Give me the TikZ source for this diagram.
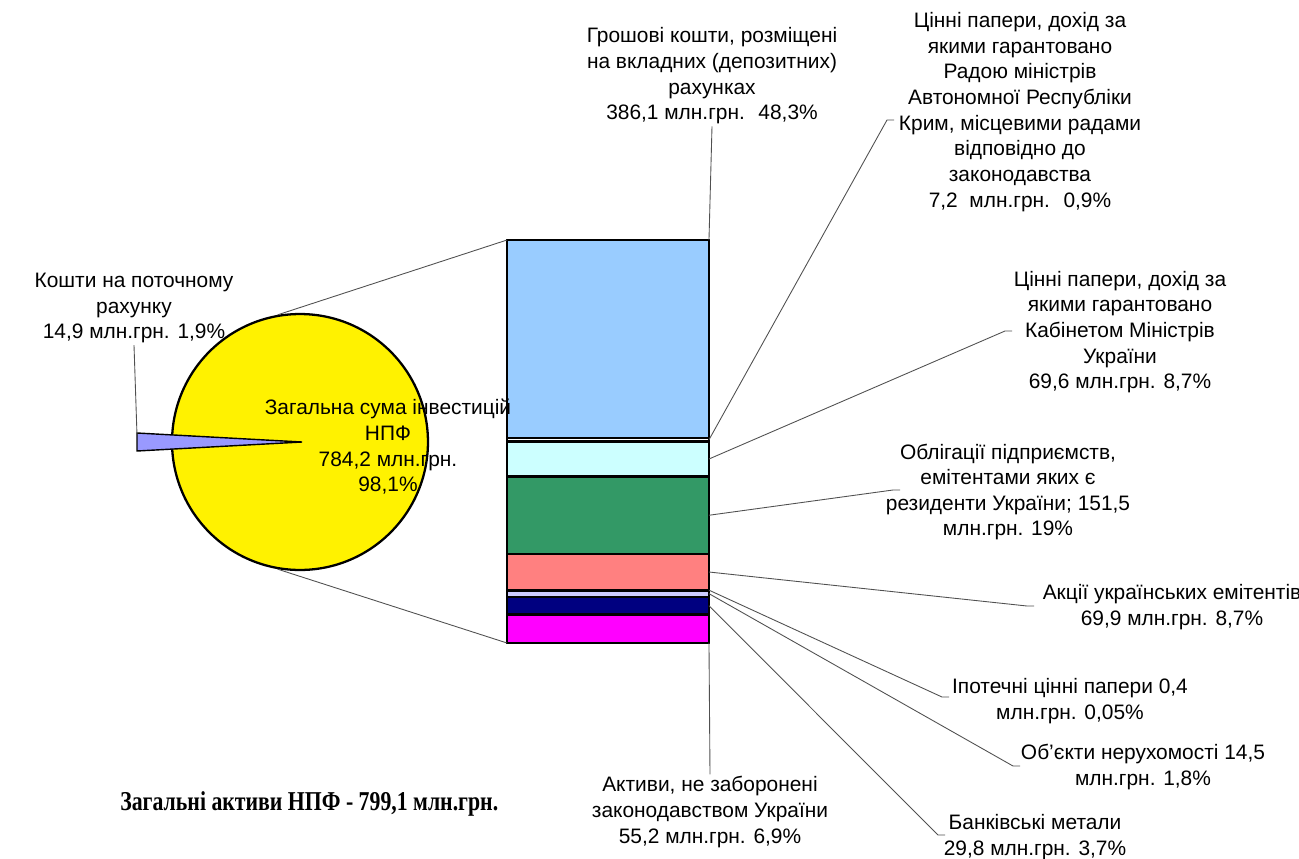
\documentclass[tikz,border=0pt]{standalone}
\usepackage{fontspec}
\setmainfont{Liberation Sans}
\newfontfamily\titlefont[FakeStretch=0.8]{Liberation Serif}
\usepackage{xcolor}
\definecolor{depblue}{HTML}{99CCFF}
\definecolor{cabcyan}{HTML}{CCFFFF}
\definecolor{bondgreen}{HTML}{339966}
\definecolor{shrsalmon}{HTML}{FF8080}
\definecolor{ipoblue}{HTML}{0066CC}
\definecolor{reallav}{HTML}{CCCCFF}
\definecolor{metalnavy}{HTML}{000080}
\definecolor{othmag}{HTML}{FF00FF}
\definecolor{slicelav}{HTML}{9999FF}
\definecolor{leadgray}{HTML}{505050}
\tikzstyle{lbl} = [align=center, inner sep=1pt, font=\fontsize{11.9}{14.6}\selectfont]
\tikzstyle{seg} = [draw, line width=1.4pt, minimum width=4.04cm, inner sep=0pt, outer sep=0pt, anchor=north]
\tikzstyle{leader} = [draw=leadgray, line width=0.5pt]

\begin{document}
\begin{tikzpicture}[x=0.02cm, y=-0.02cm]
\useasboundingbox (0,0) rectangle (1299,859);

% pie with the total sum
\node[circle, draw, line width=1.3pt, fill=yellow, minimum size=5.12cm, inner sep=0pt] (pie) at (300,442) {};
\filldraw[fill=slicelav, line width=0.8pt] (137,433) -- (302,442) -- (137,451) -- cycle;
\coordinate (slicetip) at (137,435);

% bar of the investments
\foreach \name/\top/\h/\col in {dep/240/198/depblue, crim/438/3.5/white, cab/441.5/35/cabcyan, bond/476.5/77.5/bondgreen, shr/554/36/shrsalmon, ipo/590/0.3/ipoblue, real/590.3/6.7/reallav, metal/597/17.5/metalnavy, oth/614.5/28.5/othmag}
{
	\node[seg, fill=\col, minimum height=\h*0.02cm] (\name) at (608,\top) {};
}

\node[lbl] (slicelbl) at (134,308) {Кошти на поточному\\рахунку\\14,9 млн.грн. 1,9\%};
\node[lbl] (pielbl) at (388,447) {Загальна сума інвестицій\\НПФ\\784,2 млн.грн.\\98,1\%};
\node[lbl] (deplbl) at (712,76) {Грошові кошти, розміщені\\на вкладних (депозитних)\\рахунках\\386,1 млн.грн.~ 48,3\%};
\node[lbl] (crimlbl) at (1020,112) {Цінні папери, дохід за\\якими гарантовано\\Радою міністрів\\Автономної Республіки\\Крим, місцевими радами\\відповідно до\\законодавства\\7,2~ млн.грн.~ 0,9\%};
\node[lbl] (cablbl) at (1120,332) {Цінні папери, дохід за\\якими гарантовано\\Кабінетом Міністрів\\України\\69,6 млн.грн. 8,7\%};
\node[lbl] (bondlbl) at (1008,492) {Облігації підприємств,\\емітентами яких є\\резиденти України; 151,5\\млн.грн. 19\%};
\node[lbl] (shrlbl) at (1172,607) {Акції українських емітентів\\69,9 млн.грн. 8,7\%};
\node[lbl] (ipolbl) at (1070,701) {Іпотечні цінні папери 0,4\\млн.грн. 0,05\%};
\node[lbl] (reallbl) at (1143,767) {Об'єкти нерухомості 14,5\\млн.грн. 1,8\%};
\node[lbl] (metallbl) at (1035,837) {Банківські метали\\29,8 млн.грн. 3,7\%};
\node[lbl] (othlbl) at (710,812) {Активи, не заборонені\\законодавством України\\55,2 млн.грн. 6,9\%};
\node[font=\titlefont\bfseries\fontsize{15.5}{17}\selectfont, anchor=west, inner sep=0pt] (title) at (120,804) {Загальні активи НПФ - 799,1 млн.грн.};

% leader ends next to the labels
\coordinate (crimend) at (887,120);
\coordinate (cabend) at (1005,331);
\coordinate (bondend) at (893,490);
\coordinate (shrend) at (1027,606);
\coordinate (ipoend) at (942,697);
\coordinate (realend) at (1013,766);
\coordinate (metalend) at (938,835);

\foreach \from/\to in {crim.east/crimend, cab.east/cabend, bond.east/bondend, shr.east/shrend, ipo.east/ipoend, real.east/realend, metal.east/metalend}
{
	\draw[leader] (\from) -- (\to) -- ++(7,0);
}
\draw[leader] (dep.north east) -- (deplbl.south);
\draw[leader] (oth.south east) -- (othlbl.north);
\draw[leader] (slicelbl.south) -- (slicetip);
\draw[leader] (pie.100) -- (dep.north west);
\draw[leader] (pie.260) -- (oth.south west);

\end{tikzpicture}
\end{document}
